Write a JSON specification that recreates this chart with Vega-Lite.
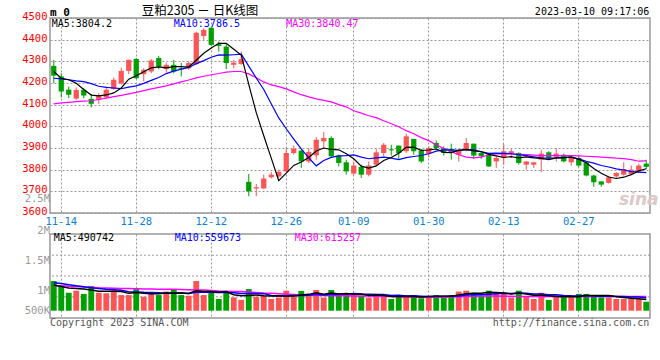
{
"$schema": "https://vega.github.io/schema/vega-lite/v6.json",
"autosize": {"type": "none"},
"padding": {"left": 50, "top": 18, "right": 10, "bottom": 342},
"background": "white",
"datasets": {
"k": [
{"d":"11-11","o":4279,"c":4234,"h":4307,"l":4199,"m5":4253,"m10":4222,"m30":4104,"v":1290000,"v5":1120000,"v10":1220000,"v30":1090000},
{"d":"11-14","o":4230,"c":4161,"h":4245,"l":4133,"m5":4222,"m10":4219,"m30":4108,"v":1070000,"v5":1050000,"v10":1180000,"v30":1080000},
{"d":"11-15","o":4169,"c":4146,"h":4184,"l":4130,"m5":4215,"m10":4215,"m30":4111,"v":780000,"v5":990000,"v10":1130000,"v30":1060000},
{"d":"11-16","o":4128,"c":4168,"h":4180,"l":4122,"m5":4199,"m10":4210,"m30":4114,"v":870000,"v5":970000,"v10":1080000,"v30":1050000},
{"d":"11-17","o":4169,"c":4142,"h":4176,"l":4130,"m5":4170.2,"m10":4206,"m30":4116,"v":730000,"v5":948000,"v10":1040000,"v30":1030000},
{"d":"11-18","o":4127,"c":4104,"h":4149,"l":4087,"m5":4144.2,"m10":4197,"m30":4118,"v":1070000,"v5":904000,"v10":1000000,"v30":1020000},
{"d":"11-21","o":4122,"c":4141,"h":4153,"l":4103,"m5":4140.2,"m10":4185,"m30":4124,"v":780000,"v5":846000,"v10":960000,"v30":1000000},
{"d":"11-22","o":4133,"c":4169,"h":4184,"l":4130,"m5":4144.8,"m10":4180,"m30":4130,"v":760000,"v5":842000,"v10":930000,"v30":990000},
{"d":"11-23","o":4172,"c":4215,"h":4225,"l":4169,"m5":4154.2,"m10":4177,"m30":4137,"v":870000,"v5":842000,"v10":910000,"v30":980000},
{"d":"11-24","o":4199,"c":4256,"h":4271,"l":4192,"m5":4177,"m10":4173.6,"m30":4143,"v":680000,"v5":832000,"v10":890000,"v30":970000},
{"d":"11-25","o":4256,"c":4307,"h":4307,"l":4241,"m5":4217.6,"m10":4180.9,"m30":4150,"v":680000,"v5":754000,"v10":829000,"v30":960000},
{"d":"11-28","o":4311,"c":4222,"h":4315,"l":4219,"m5":4233.8,"m10":4187,"m30":4157,"v":940000,"v5":786000,"v10":816000,"v30":950000},
{"d":"11-29","o":4241,"c":4261,"h":4268,"l":4207,"m5":4252.2,"m10":4198.5,"m30":4165,"v":610000,"v5":756000,"v10":799000,"v30":940000},
{"d":"11-30","o":4253,"c":4304,"h":4310,"l":4245,"m5":4270,"m10":4212.1,"m30":4173,"v":780000,"v5":738000,"v10":790000,"v30":940000},
{"d":"12-01","o":4315,"c":4276,"h":4325,"l":4264,"m5":4274,"m10":4225.5,"m30":4180,"v":680000,"v5":738000,"v10":785000,"v30":935000},
{"d":"12-02","o":4264,"c":4284,"h":4294,"l":4248,"m5":4269.4,"m10":4243.5,"m30":4187,"v":830000,"v5":768000,"v10":761000,"v30":930000},
{"d":"12-05","o":4284,"c":4253,"h":4307,"l":4245,"m5":4275.6,"m10":4254.7,"m30":4196,"v":900000,"v5":760000,"v10":773000,"v30":930000},
{"d":"12-06","o":4268,"c":4263,"h":4292,"l":4230,"m5":4276,"m10":4264.1,"m30":4205,"v":680000,"v5":774000,"v10":765000,"v30":920000},
{"d":"12-07","o":4268,"c":4292,"h":4299,"l":4261,"m5":4273.6,"m10":4271.8,"m30":4214,"v":650000,"v5":748000,"v10":743000,"v30":910000},
{"d":"12-08","o":4287,"c":4432,"h":4437,"l":4284,"m5":4304.8,"m10":4289.4,"m30":4224,"v":1290000,"v5":870000,"v10":804000,"v30":900000},
{"d":"12-09","o":4417,"c":4445,"h":4453,"l":4399,"m5":4337,"m10":4303.2,"m30":4231,"v":680000,"v5":840000,"v10":804000,"v30":900000},
{"d":"12-12","o":4455,"c":4376,"h":4457,"l":4372,"m5":4361.6,"m10":4318.6,"m30":4238,"v":870000,"v5":834000,"v10":797000,"v30":880000},
{"d":"12-13","o":4379,"c":4371,"h":4391,"l":4345,"m5":4383.2,"m10":4329.6,"m30":4244,"v":510000,"v5":800000,"v10":787000,"v30":860000},
{"d":"12-14","o":4368,"c":4292,"h":4384,"l":4264,"m5":4383.2,"m10":4328.4,"m30":4250,"v":830000,"v5":836000,"v10":792000,"v30":850000},
{"d":"12-15","o":4284,"c":4294,"h":4307,"l":4268,"m5":4355.6,"m10":4330.3,"m30":4253,"v":580000,"v5":694000,"v10":782000,"v30":840000},
{"d":"12-16","o":4288,"c":4310,"h":4345,"l":4284,"m5":4328.6,"m10":4332.9,"m30":4253,"v":470000,"v5":652000,"v10":746000,"v30":830000},
{"d":"12-19","o":3744,"c":3700,"h":3780,"l":3677,"m5":4193.4,"m10":4277.6,"m30":4242,"v":940000,"v5":666000,"v10":750000,"v30":810000},
{"d":"12-20","o":3713,"c":3719,"h":3734,"l":3677,"m5":4063,"m10":4223.1,"m30":4224,"v":610000,"v5":686000,"v10":743000,"v30":790000},
{"d":"12-21","o":3713,"c":3759,"h":3777,"l":3712,"m5":3956.4,"m10":4169.8,"m30":4205,"v":640000,"v5":648000,"v10":742000,"v30":770000},
{"d":"12-22","o":3765,"c":3777,"h":3790,"l":3759,"m5":3853,"m10":4104.3,"m30":4191,"v":510000,"v5":634000,"v10":664000,"v30":760000},
{"d":"12-23","o":3769,"c":3790,"h":3800,"l":3762,"m5":3749,"m10":4038.8,"m30":4183,"v":570000,"v5":654000,"v10":653000,"v30":740000},
{"d":"12-26","o":3792,"c":3877,"h":3900,"l":3790,"m5":3784.4,"m10":3988.9,"m30":4173,"v":870000,"v5":640000,"v10":653000,"v30":720000},
{"d":"12-27","o":3877,"c":3896,"h":3912,"l":3869,"m5":3819.8,"m10":3941.4,"m30":4159,"v":610000,"v5":640000,"v10":663000,"v30":700000},
{"d":"12-28","o":3888,"c":3838,"h":3890,"l":3808,"m5":3835.6,"m10":3896,"m30":4146,"v":860000,"v5":684000,"v10":666000,"v30":680000},
{"d":"12-29","o":3838,"c":3882,"h":3900,"l":3831,"m5":3856.6,"m10":3854.8,"m30":4136,"v":640000,"v5":710000,"v10":672000,"v30":675000},
{"d":"12-30","o":3866,"c":3938,"h":3950,"l":3846,"m5":3886.2,"m10":3817.6,"m30":4127,"v":900000,"v5":776000,"v10":715000,"v30":670000},
{"d":"01-03","o":3931,"c":3946,"h":3974,"l":3900,"m5":3900,"m10":3842.2,"m30":4120,"v":570000,"v5":716000,"v10":678000,"v30":660000},
{"d":"01-04","o":3946,"c":3862,"h":3954,"l":3854,"m5":3893.2,"m10":3856.5,"m30":4113,"v":900000,"v5":774000,"v10":707000,"v30":650000},
{"d":"01-05","o":3865,"c":3831,"h":3869,"l":3815,"m5":3891.8,"m10":3863.7,"m30":4100,"v":640000,"v5":730000,"v10":707000,"v30":650000},
{"d":"01-06","o":3834,"c":3792,"h":3846,"l":3777,"m5":3873.8,"m10":3865.2,"m30":4090,"v":730000,"v5":748000,"v10":729000,"v30":645000},
{"d":"01-09","o":3782,"c":3819,"h":3838,"l":3773,"m5":3850,"m10":3868.1,"m30":4072,"v":730000,"v5":714000,"v10":745000,"v30":640000},
{"d":"01-10","o":3813,"c":3777,"h":3823,"l":3762,"m5":3816.2,"m10":3858.1,"m30":4061,"v":640000,"v5":728000,"v10":722000,"v30":640000},
{"d":"01-11","o":3777,"c":3819,"h":3838,"l":3769,"m5":3807.6,"m10":3850.4,"m30":4049,"v":570000,"v5":662000,"v10":718000,"v30":635000},
{"d":"01-12","o":3823,"c":3880,"h":3896,"l":3819,"m5":3817.4,"m10":3854.6,"m30":4040,"v":730000,"v5":680000,"v10":705000,"v30":630000},
{"d":"01-13","o":3877,"c":3915,"h":3923,"l":3862,"m5":3842,"m10":3857.9,"m30":4026,"v":640000,"v5":662000,"v10":705000,"v30":625000},
{"d":"01-16","o":3894,"c":3889,"h":3915,"l":3865,"m5":3856,"m10":3853,"m30":4012,"v":510000,"v5":618000,"v10":666000,"v30":620000},
{"d":"01-17","o":3911,"c":3877,"h":3911,"l":3850,"m5":3876,"m10":3846.1,"m30":3998,"v":610000,"v5":612000,"v10":670000,"v30":610000},
{"d":"01-18","o":3885,"c":3954,"h":3966,"l":3877,"m5":3903,"m10":3855.3,"m30":3980,"v":640000,"v5":626000,"v10":644000,"v30":600000},
{"d":"01-19","o":3942,"c":3885,"h":3942,"l":3869,"m5":3904,"m10":3860.7,"m30":3966,"v":680000,"v5":616000,"v10":648000,"v30":595000},
{"d":"01-20","o":3889,"c":3838,"h":3896,"l":3831,"m5":3888.6,"m10":3865.3,"m30":3948,"v":540000,"v5":596000,"v10":629000,"v30":590000},
{"d":"01-30","o":3873,"c":3900,"h":3908,"l":3857,"m5":3890.8,"m10":3873.4,"m30":3934,"v":610000,"v5":616000,"v10":617000,"v30":585000},
{"d":"01-31","o":3923,"c":3900,"h":3935,"l":3892,"m5":3895.4,"m10":3885.7,"m30":3915,"v":680000,"v5":630000,"v10":621000,"v30":580000},
{"d":"02-01","o":3900,"c":3877,"h":3908,"l":3865,"m5":3880,"m10":3891.5,"m30":3897,"v":640000,"v5":630000,"v10":628000,"v30":590000},
{"d":"02-02","o":3896,"c":3880,"h":3920,"l":3846,"m5":3879,"m10":3891.5,"m30":3883,"v":680000,"v5":630000,"v10":623000,"v30":600000},
{"d":"02-03","o":3869,"c":3889,"h":3896,"l":3838,"m5":3889.2,"m10":3888.9,"m30":3869,"v":830000,"v5":688000,"v10":642000,"v30":610000},
{"d":"02-06","o":3889,"c":3923,"h":3946,"l":3885,"m5":3893.8,"m10":3892.3,"m30":3858,"v":870000,"v5":740000,"v10":678000,"v30":620000},
{"d":"02-07","o":3920,"c":3865,"h":3920,"l":3850,"m5":3886.8,"m10":3891.1,"m30":3854,"v":780000,"v5":760000,"v10":695000,"v30":630000},
{"d":"02-08","o":3877,"c":3862,"h":3880,"l":3850,"m5":3883.8,"m10":3881.9,"m30":3858,"v":640000,"v5":760000,"v10":695000,"v30":635000},
{"d":"02-09","o":3869,"c":3815,"h":3877,"l":3813,"m5":3870.8,"m10":3874.9,"m30":3869,"v":870000,"v5":798000,"v10":714000,"v30":640000},
{"d":"02-10","o":3838,"c":3854,"h":3865,"l":3808,"m5":3863.8,"m10":3876.5,"m30":3873,"v":780000,"v5":788000,"v10":738000,"v30":635000},
{"d":"02-13","o":3854,"c":3885,"h":3920,"l":3823,"m5":3856.2,"m10":3875,"m30":3874,"v":780000,"v5":770000,"v10":755000,"v30":630000},
{"d":"02-14","o":3877,"c":3885,"h":3896,"l":3854,"m5":3860.2,"m10":3873.5,"m30":3873,"v":570000,"v5":728000,"v10":744000,"v30":625000},
{"d":"02-15","o":3877,"c":3831,"h":3880,"l":3823,"m5":3854,"m10":3868.9,"m30":3871,"v":870000,"v5":774000,"v10":767000,"v30":620000},
{"d":"02-16","o":3823,"c":3838,"h":3838,"l":3800,"m5":3858.6,"m10":3864.7,"m30":3869,"v":640000,"v5":728000,"v10":763000,"v30":620000},
{"d":"02-17","o":3823,"c":3834,"h":3834,"l":3808,"m5":3854.6,"m10":3859.2,"m30":3867,"v":510000,"v5":674000,"v10":731000,"v30":620000},
{"d":"02-20","o":3846,"c":3874,"h":3892,"l":3788,"m5":3852.4,"m10":3854.3,"m30":3865,"v":780000,"v5":674000,"v10":722000,"v30":620000},
{"d":"02-21","o":3880,"c":3854,"h":3885,"l":3846,"m5":3846.2,"m10":3853.2,"m30":3865,"v":470000,"v5":654000,"v10":691000,"v30":620000},
{"d":"02-22","o":3859,"c":3874,"h":3900,"l":3838,"m5":3854.8,"m10":3854.4,"m30":3865,"v":680000,"v5":616000,"v10":695000,"v30":620000},
{"d":"02-23","o":3869,"c":3838,"h":3874,"l":3834,"m5":3854.8,"m10":3856.7,"m30":3865,"v":580000,"v5":604000,"v10":666000,"v30":620000},
{"d":"02-24","o":3834,"c":3854,"h":3862,"l":3819,"m5":3858.8,"m10":3856.7,"m30":3865,"v":580000,"v5":618000,"v10":646000,"v30":620000},
{"d":"02-27","o":3854,"c":3819,"h":3862,"l":3813,"m5":3847.8,"m10":3850.1,"m30":3864,"v":730000,"v5":608000,"v10":641000,"v30":620000},
{"d":"02-28","o":3834,"c":3773,"h":3838,"l":3769,"m5":3831.6,"m10":3838.9,"m30":3862,"v":730000,"v5":660000,"v10":657000,"v30":620000},
{"d":"03-01","o":3773,"c":3742,"h":3777,"l":3721,"m5":3805.2,"m10":3830,"m30":3860,"v":680000,"v5":660000,"v10":638000,"v30":620000},
{"d":"03-02","o":3746,"c":3731,"h":3746,"l":3721,"m5":3783.8,"m10":3819.3,"m30":3858,"v":580000,"v5":660000,"v10":632000,"v30":620000},
{"d":"03-03","o":3739,"c":3765,"h":3769,"l":3736,"m5":3766,"m10":3812.4,"m30":3856,"v":580000,"v5":660000,"v10":639000,"v30":620000},
{"d":"03-06","o":3769,"c":3785,"h":3788,"l":3762,"m5":3759.2,"m10":3803.5,"m30":3853,"v":510000,"v5":616000,"v10":612000,"v30":620000},
{"d":"03-07","o":3777,"c":3803,"h":3834,"l":3773,"m5":3765.2,"m10":3798.4,"m30":3851,"v":510000,"v5":572000,"v10":616000,"v30":618000},
{"d":"03-08","o":3780,"c":3800,"h":3819,"l":3777,"m5":3776.8,"m10":3791,"m30":3846,"v":510000,"v5":538000,"v10":599000,"v30":617000},
{"d":"03-09","o":3792,"c":3819,"h":3827,"l":3785,"m5":3794.4,"m10":3789.1,"m30":3839,"v":510000,"v5":524000,"v10":592000,"v30":616000},
{"d":"03-10","o":3828,"c":3813,"h":3846,"l":3803,"m5":3804.2,"m10":3786.5,"m30":3840.47,"v":390000,"v5":490742,"v10":559673,"v30":615257}
],
"vgrid": [{"g": 600000}, {"g": 1510000}, {"g": 2413000}],
"vlab": [{"p": 0, "t": "500K"}, {"p": 869600, "t": "1M"}, {"p": 2174000, "t": "1.5M"}, {"p": 3465000, "t": "2M"}, {"p": 4843000, "t": "2.5M"}]
},
"spacing": 21,
"bounds": "flush",
"vconcat": [
{
"width": 600,
"height": 195,
"data": {"name": "k"},
"encoding": {
"x": {"field": "d", "type": "ordinal", "sort": null,
"scale": {"paddingInner": 0.3, "paddingOuter": 0.15},
"axis": {"values": ["11-14","11-28","12-12","12-26","01-09","01-30","02-13","02-27"], "labelColor": "#0a7fd6", "labelAngle": 0, "labelPadding": 3, "grid": true, "bandPosition": 0.5, "labelOverlap": false, "title": null}}
},
"layer": [
{"mark": {"type": "rule", "strokeWidth": 1},
"encoding": {
"y": {"field": "l", "type": "quantitative", "scale": {"domain": [3600, 4500], "nice": false, "zero": false},
"axis": {"values": [3600,3700,3800,3900,4000,4100,4200,4300,4400,4500], "tickCount": 10, "format": "d", "labelColor": "#ff0000", "labelPadding": 3, "grid": true, "labelOffset": -1.5, "labelFlush": false, "labelOverlap": false, "title": null}},
"y2": {"field": "h"},
"color": {"condition": {"test": "datum.c > datum.o", "value": "#fa5555"}, "value": "#00a000"}}},
{"mark": {"type": "bar"},
"encoding": {
"y": {"field": "o", "type": "quantitative"},
"y2": {"field": "c"},
"color": {"condition": {"test": "datum.c > datum.o", "value": "#fa5555"}, "value": "#00a000"}}},
{"mark": {"type": "line", "color": "#ff00ff", "strokeWidth": 1.2}, "encoding": {"y": {"field": "m30", "type": "quantitative"}}},
{"mark": {"type": "line", "color": "#0000ff", "strokeWidth": 1.2}, "encoding": {"y": {"field": "m10", "type": "quantitative"}}},
{"mark": {"type": "line", "color": "#000000", "strokeWidth": 1.2}, "encoding": {"y": {"field": "m5", "type": "quantitative"}}},
{"data": {"values": [{}]},
"mark": {"type": "text", "align": "left", "baseline": "alphabetic", "dx": -3.75, "dy": -2.5, "font": "DejaVu Sans Mono", "fontWeight": "bold", "fontSize": 11, "color": "#000"},
"encoding": {"x": {"datum": "11-11", "type": "ordinal"}, "y": {"datum": 4500, "type": "quantitative"}, "text": {"value": "m 0"}}},
{"data": {"values": [{}]},
"mark": {"type": "text", "align": "center", "baseline": "alphabetic", "dx": 3.75, "dy": -3, "font": "Noto Sans CJK SC", "fontSize": 12.5, "color": "#000"},
"encoding": {"x": {"datum": "12-08", "type": "ordinal"}, "y": {"datum": 4500, "type": "quantitative"}, "text": {"value": "豆粕2305 － 日K线图"}}},
{"data": {"values": [{}]},
"mark": {"type": "text", "align": "right", "baseline": "alphabetic", "dx": 3, "dy": -3, "font": "DejaVu Sans Mono", "fontSize": 10, "color": "#000"},
"encoding": {"x": {"datum": "03-10", "type": "ordinal"}, "y": {"datum": 4500, "type": "quantitative"}, "text": {"value": "2023-03-10 09:17:06"}}},
{"data": {"values": [{}]},
"mark": {"type": "text", "align": "left", "baseline": "alphabetic", "dx": -2, "dy": 9, "font": "DejaVu Sans Mono", "fontSize": 10, "color": "#000"},
"encoding": {"x": {"datum": "11-11", "type": "ordinal"}, "y": {"datum": 4500, "type": "quantitative"}, "text": {"value": "MA5:3804.2"}}},
{"data": {"values": [{}]},
"mark": {"type": "text", "align": "left", "baseline": "alphabetic", "dx": 0, "dy": 9, "font": "DejaVu Sans Mono", "fontSize": 10, "color": "#0000ff"},
"encoding": {"x": {"datum": "12-05", "type": "ordinal"}, "y": {"datum": 4500, "type": "quantitative"}, "text": {"value": "MA10:3786.5"}}},
{"data": {"values": [{}]},
"mark": {"type": "text", "align": "left", "baseline": "alphabetic", "dx": 0, "dy": 9, "font": "DejaVu Sans Mono", "fontSize": 10, "color": "#ff00ff"},
"encoding": {"x": {"datum": "12-26", "type": "ordinal"}, "y": {"datum": 4500, "type": "quantitative"}, "text": {"value": "MA30:3840.47"}}},
{"data": {"values": [{}]},
"mark": {"type": "text", "align": "center", "baseline": "middle", "font": "DejaVu Sans", "fontStyle": "italic", "fontWeight": "bold", "fontSize": 17, "color": "#dcc8c8"},
"encoding": {"x": {"datum": "03-09", "type": "ordinal"}, "y": {"datum": 3660, "type": "quantitative"}, "text": {"value": "sina"}}}
]
},
{
"width": 600,
"height": 84,
"layer": [
{"data": {"name": "vgrid"},
"mark": {"type": "rule", "color": "#999999", "strokeDash": [2, 2], "strokeWidth": 1},
"encoding": {"y": {"field": "g", "type": "quantitative"}}},
{"data": {"name": "k"},
"mark": {"type": "bar"},
"encoding": {
"x": {"field": "d", "type": "ordinal", "sort": null,
"scale": {"paddingInner": 0.22, "paddingOuter": 0.11},
"axis": {"values": ["11-14","11-28","12-12","12-26","01-09","01-30","02-13","02-27"], "labels": false, "grid": true, "bandPosition": 0.5, "title": null}},
"y": {"field": "v", "type": "quantitative", "scale": {"domain": [-317400, 3334800], "nice": false, "zero": false},
"axis": {"labels": false, "grid": false, "title": null}},
"color": {"condition": {"test": "datum.c > datum.o", "value": "#fa5555"}, "value": "#00a000"}}},
{"data": {"name": "k"},
"mark": {"type": "line", "color": "#ff00ff", "strokeWidth": 1.5},
"encoding": {"x": {"field": "d", "type": "ordinal", "sort": null}, "y": {"field": "v30", "type": "quantitative"}}},
{"data": {"name": "k"},
"mark": {"type": "line", "color": "#0000ff", "strokeWidth": 1.5},
"encoding": {"x": {"field": "d", "type": "ordinal", "sort": null}, "y": {"field": "v10", "type": "quantitative"}}},
{"data": {"name": "k"},
"mark": {"type": "line", "color": "#000000", "strokeWidth": 1.5},
"encoding": {"x": {"field": "d", "type": "ordinal", "sort": null}, "y": {"field": "v5", "type": "quantitative"}}},
{"data": {"name": "vlab"},
"mark": {"type": "text", "align": "right", "baseline": "middle", "dx": -3.75, "font": "DejaVu Sans Mono", "fontSize": 10.5, "color": "#999999"},
"encoding": {"x": {"datum": "11-11", "type": "ordinal"}, "y": {"field": "p", "type": "quantitative"}, "text": {"field": "t"}}},
{"data": {"values": [{}]},
"mark": {"type": "text", "align": "left", "baseline": "alphabetic", "dx": 0, "dy": 7, "font": "DejaVu Sans Mono", "fontSize": 10, "color": "#000"},
"encoding": {"x": {"datum": "11-11", "type": "ordinal"}, "y": {"datum": 3334800, "type": "quantitative"}, "text": {"value": "MA5:490742"}}},
{"data": {"values": [{}]},
"mark": {"type": "text", "align": "left", "baseline": "alphabetic", "dx": 1, "dy": 7, "font": "DejaVu Sans Mono", "fontSize": 10, "color": "#0000ff"},
"encoding": {"x": {"datum": "12-05", "type": "ordinal"}, "y": {"datum": 3334800, "type": "quantitative"}, "text": {"value": "MA10:559673"}}},
{"data": {"values": [{}]},
"mark": {"type": "text", "align": "left", "baseline": "alphabetic", "dx": 1, "dy": 7, "font": "DejaVu Sans Mono", "fontSize": 10, "color": "#ff00ff"},
"encoding": {"x": {"datum": "12-27", "type": "ordinal"}, "y": {"datum": 3334800, "type": "quantitative"}, "text": {"value": "MA30:615257"}}},
{"data": {"values": [{}]},
"mark": {"type": "text", "align": "left", "baseline": "alphabetic", "dx": -3.75, "dy": 8, "font": "DejaVu Sans Mono", "fontSize": 10, "color": "#555"},
"encoding": {"x": {"datum": "11-11", "type": "ordinal"}, "y": {"datum": -317400, "type": "quantitative"}, "text": {"value": "Copyright 2023 SINA.COM"}}},
{"data": {"values": [{}]},
"mark": {"type": "text", "align": "right", "baseline": "alphabetic", "dx": 3, "dy": 8, "font": "DejaVu Sans Mono", "fontSize": 10, "color": "#555"},
"encoding": {"x": {"datum": "03-10", "type": "ordinal"}, "y": {"datum": -317400, "type": "quantitative"}, "text": {"value": "http://finance.sina.com.cn"}}}
]
}
],
"config": {
"view": {"stroke": "#999999", "strokeWidth": 1.5},
"axis": {"labelFont": "DejaVu Sans Mono", "labelFontSize": 10.5, "domain": false, "ticks": false, "gridColor": "#999999", "gridDash": [2, 2], "gridWidth": 1, "labelOverlap": false}
}
}
